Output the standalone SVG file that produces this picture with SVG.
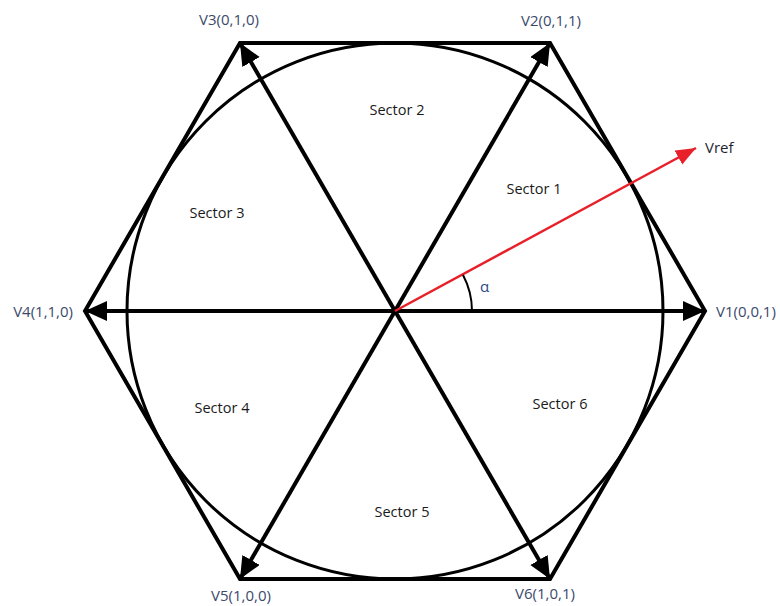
<svg xmlns="http://www.w3.org/2000/svg" width="780" height="606" viewBox="0 0 780 606">
<style>
.hex{fill:none;stroke:#000;stroke-width:4;stroke-linejoin:miter}
.circ{fill:none;stroke:#000;stroke-width:3}
.vec{stroke:#000;stroke-width:4;marker-end:url(#ah)}
.ref{stroke:#e8202a;stroke-width:2.5;marker-end:url(#ahr)}
.vl{font-family:"Open Sans","Liberation Sans",sans-serif;font-size:15px;fill:#3b4a6b}
.sl{font-family:"Open Sans","Liberation Sans",sans-serif;font-size:14.5px;fill:#1a1a1a;text-anchor:middle}
</style>
<defs>
<marker id="ah" markerUnits="userSpaceOnUse" markerWidth="24" markerHeight="22" refX="22" refY="10" orient="auto" viewBox="0 0 24 22">
<path d="M0,0 L22,10 L0,20 z" fill="#000"/>
</marker>
<marker id="ahr" markerUnits="userSpaceOnUse" markerWidth="22" markerHeight="20" refX="20" refY="8" orient="auto" viewBox="0 0 22 20">
<path d="M0,0 L20,8 L0,16 z" fill="#e8202a"/>
</marker>
</defs>
<g id="hexagon"><polygon class="hex" points="705,311 550,43 240,43 85,311 240,579 550,579"/></g>
<g id="circle"><circle class="circ" cx="395" cy="311" r="268"/></g>
<g id="connectors">
<line class="vec" x1="395" y1="311" x2="705" y2="311"/>
<line class="vec" x1="395" y1="311" x2="550" y2="43"/>
<line class="vec" x1="395" y1="311" x2="240" y2="43"/>
<line class="vec" x1="395" y1="311" x2="85" y2="311"/>
<line class="vec" x1="395" y1="311" x2="240" y2="579"/>
<line class="vec" x1="395" y1="311" x2="550" y2="579"/>
<line class="ref" x1="395" y1="311" x2="696" y2="148"/>
<path d="M472,311 A77,77 0 0 0 463,275" fill="none" stroke="#000" stroke-width="2"/>
</g>
<g id="V1"><text class="vl" x="716" y="317">V1(0,0,1)</text></g>
<g id="V2"><text class="vl" x="551" y="26" text-anchor="middle">V2(0,1,1)</text></g>
<g id="V3"><text class="vl" x="229" y="25" text-anchor="middle">V3(0,1,0)</text></g>
<g id="V4"><text class="vl" x="73" y="317" text-anchor="end">V4(1,1,0)</text></g>
<g id="V5"><text class="vl" x="241" y="601" text-anchor="middle">V5(1,0,0)</text></g>
<g id="V6"><text class="vl" x="545" y="599" text-anchor="middle">V6(1,0,1)</text></g>
<g id="Vref"><text class="vl" x="705" y="153" style="fill:#1f2433">Vref</text></g>
<g id="alpha"><text class="vl" x="480" y="292" style="fill:#2f4a8a">α</text></g>
<g id="sector1"><text class="sl" x="534" y="194">Sector 1</text></g>
<g id="sector2"><text class="sl" x="397" y="115">Sector 2</text></g>
<g id="sector3"><text class="sl" x="217" y="218">Sector 3</text></g>
<g id="sector4"><text class="sl" x="222" y="413">Sector 4</text></g>
<g id="sector5"><text class="sl" x="402" y="517">Sector 5</text></g>
<g id="sector6"><text class="sl" x="560" y="409">Sector 6</text></g>
</svg>
